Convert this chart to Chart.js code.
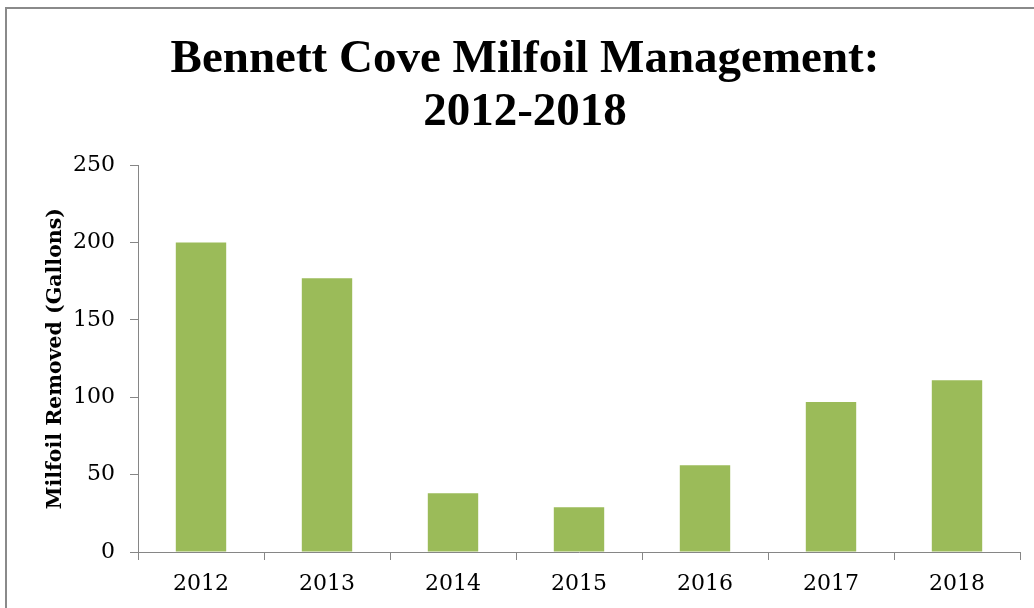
<!DOCTYPE html>
<html>
<head>
<meta charset="utf-8">
<script src="https://cdn.jsdelivr.net/npm/chart.js@4.4.1/dist/chart.umd.min.js"></script>
<style>
  html, body { margin: 0; padding: 0; background: #fff; overflow: hidden; }
  #box {
    position: absolute; left: 5px; top: 7px;
    width: 1040px; height: 640px;
    border: 2px solid #8a8a8a;
    background: #fff;
  }
</style>
</head>
<body>
<div id="box"><canvas id="chart"></canvas></div>
<script>
// Bennett Cove milfoil removal, gallons per year
const years = ["2012", "2013", "2014", "2015", "2016", "2017", "2018"];
const gallons = [200, 177, 38, 29, 56, 97, 111];
const titleLines = ["Bennett Cove Milfoil Management:", "2012-2018"];
const yTitle = "Milfoil Removed (Gallons)";

const axisGray = "#868686";
const serif = "'DejaVu Serif', 'Liberation Serif', serif";

new Chart(document.getElementById("chart"), {
  type: "bar",
  data: {
    labels: years,
    datasets: [{
      label: "Milfoil Removed",
      data: gallons,
      backgroundColor: "#9bbb59",
      borderWidth: 0,
      categoryPercentage: 1,
      barPercentage: 0.4,
    }],
  },
  options: {
    responsive: true,
    maintainAspectRatio: false,
    animation: false,
    layout: { padding: { left: 23, right: 27, top: 0, bottom: 37 } },
    plugins: {
      legend: { display: false },
      tooltip: { enabled: false },
      title: {
        display: true,
        text: titleLines,
        color: "#000",
        font: { family: "'Liberation Serif', serif", size: 47, weight: "bold", lineHeight: 1.12 },
        padding: { top: 25, bottom: 26 },
      },
    },
    scales: {
      x: {
        offset: true,
        grid: { display: true, offset: true, drawOnChartArea: false, drawTicks: true, tickLength: 8, color: axisGray },
        border: { color: axisGray, width: 1 },
        ticks: { color: "#000", padding: 11, font: { family: serif, size: 22 } },
        afterFit: (s) => { s.height = 60; },
      },
      y: {
        min: 0,
        max: 250,
        ticks: { stepSize: 50, color: "#000", padding: 15, font: { family: serif, size: 22 } },
        grid: { display: true, drawOnChartArea: false, drawTicks: true, tickLength: 8, color: axisGray },
        border: { color: axisGray, width: 1 },
        title: {
          display: true,
          text: yTitle,
          color: "#000",
          font: { family: serif, size: 20.5, weight: "bold", lineHeight: 1.2 },
          padding: { top: 13, bottom: 0 },
        },
        afterFit: (s) => { s.width = 108; },
      },
    },
  },
});
</script>
</body>
</html>
